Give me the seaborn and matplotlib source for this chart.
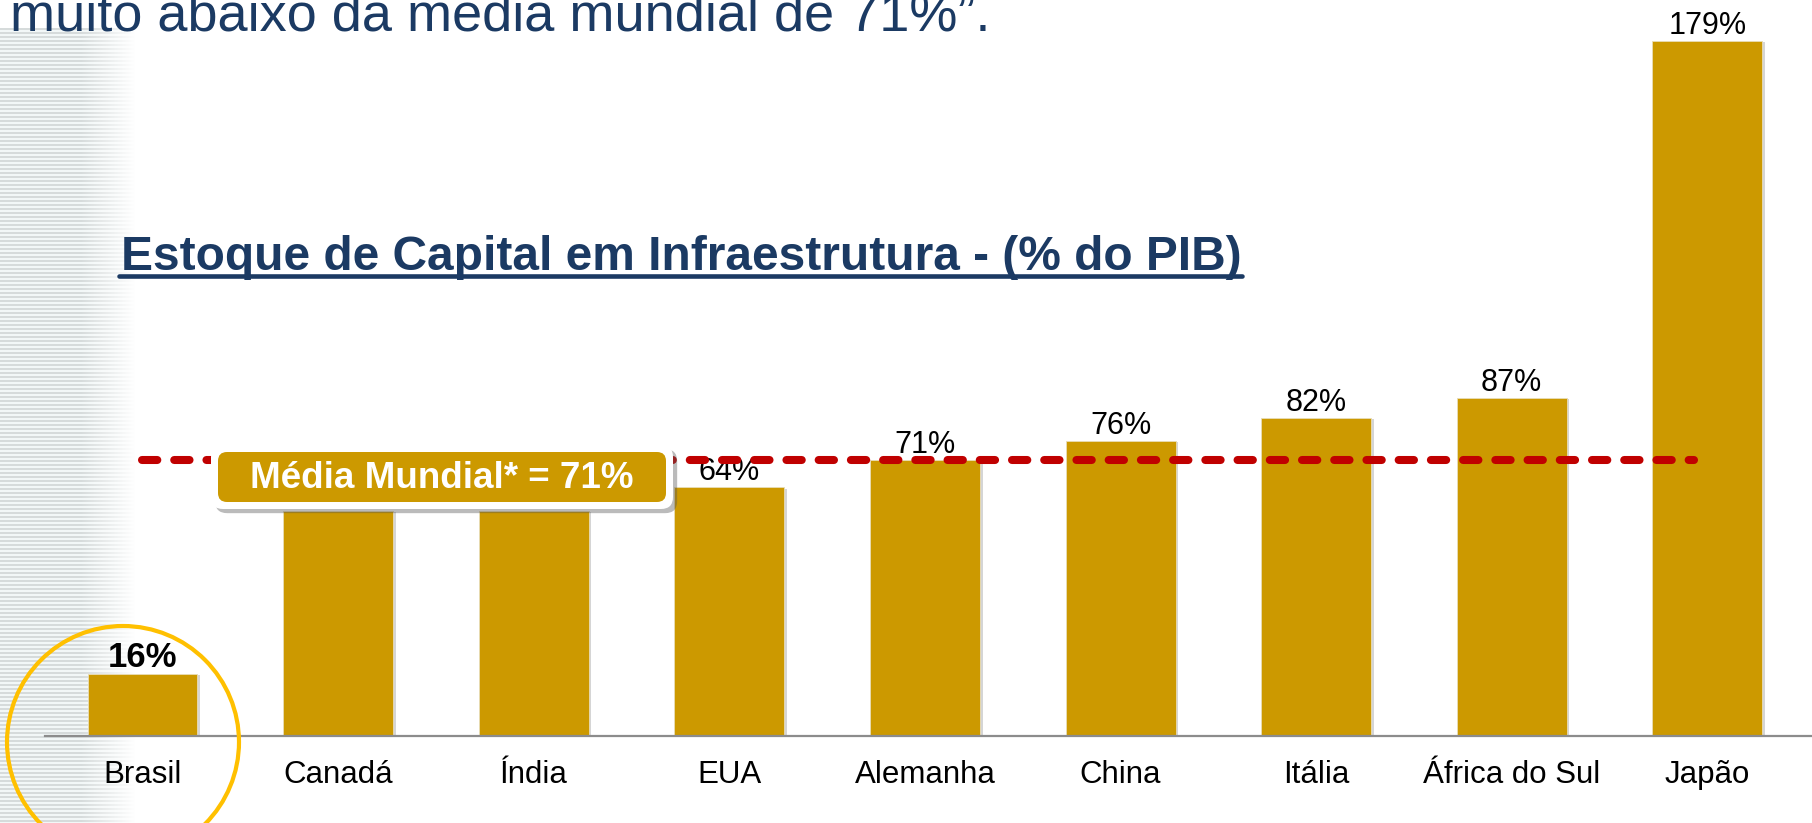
import matplotlib
matplotlib.use('Agg')
import matplotlib.pyplot as plt
from matplotlib.patches import FancyBboxPatch, Circle
from matplotlib.lines import Line2D
import matplotlib.patheffects as pe
import numpy as np
import pandas as pd
import seaborn as sns

paises = ['Brasil', 'Canadá', 'Índia', 'EUA', 'Alemanha', 'China', 'Itália', 'África do Sul', 'Japão']
estoque = [16, 58, 58, 64, 71, 76, 82, 87, 179]
media_mundial = 71
# Canadá e Índia ficam escondidos atrás da caixa da média no original
ocultos = ['Canadá', 'Índia']

titulo = 'Estoque de Capital em Infraestrutura - (% do PIB)'
texto_topo = 'muito abaixo da média mundial de 71%”.'
rotulo_media = f'Média Mundial* = {media_mundial}%'

OURO = '#CC9900'
AZUL = '#1B3A63'
VERMELHO = '#C00000'

sns.set_style('white')
plt.rcParams['font.family'] = ['Liberation Sans', 'DejaVu Sans']

W, H = 1812, 823
fig = plt.figure(figsize=(W / 100, H / 100), dpi=100)

# faixa listrada decorativa na margem esquerda
bg = fig.add_axes([0, 0, 135 / W, (H - 28) / H], zorder=-5)
rows = np.arange(H - 28)
gray = np.where(rows % 4 < 2, 0.84, 0.95)
img = np.ones((H - 28, 135, 4))
img[:, :, 0] = gray[:, None]
img[:, :, 1] = gray[:, None] + 0.02
img[:, :, 2] = gray[:, None] + 0.02
cols = np.arange(135)
img[:, :, 3] = np.clip(1 - (cols - 80) / 55, 0, 1)[None, :]
bg.imshow(np.clip(img, 0, 1), aspect='auto', interpolation='nearest')
bg.axis('off')

ax = fig.add_axes([45 / W, (H - 736) / H, (W - 45) / W, 736 / H])
ax.patch.set_alpha(0)
df = pd.DataFrame({'pais': paises, 'valor': estoque})
sns.barplot(data=df, x='pais', y='valor', color=OURO, saturation=1, width=0.562, ax=ax)
for bar in ax.patches:
    bar.set_path_effects([pe.SimplePatchShadow(offset=(2, -1), shadow_rgbFace='#888888', alpha=0.35), pe.Normal()])
    bar.set_edgecolor('#E8DDB8')
    bar.set_linewidth(0.6)

ax.set_xlim(-0.4985, 8.535)
ax.set_ylim(0, 189.5)
rotulos = ['' if p in ocultos else f'{v}%' for p, v in zip(paises, estoque)]
labels = ax.bar_label(ax.containers[0], labels=rotulos, fontsize=22, padding=0, color='black')
labels[0].set_fontweight('bold')
labels[0].set_fontsize(25)

ax.axhline(media_mundial, xmin=0.0549, xmax=0.9332, color=VERMELHO, lw=5.8,
           linestyle=(0, (1.9, 2.1)), dash_capstyle='round', zorder=3)

for s in ['top', 'left', 'right']:
    ax.spines[s].set_visible(False)
ax.spines['bottom'].set_color('#8C8C8C')
ax.spines['bottom'].set_linewidth(1.6)
ax.set_yticks([])
ax.set_xlabel('')
ax.set_ylabel('')
ax.tick_params(axis='x', length=0, pad=17, labelsize=22.5, labelcolor='black')

# caixa da média mundial
outer = FancyBboxPatch((2.11, (H - 509) / 100), 4.62, 0.64,
                       boxstyle='round,pad=0,rounding_size=0.12',
                       transform=fig.dpi_scale_trans, fc='white', ec='none', zorder=5)
outer.set_path_effects([pe.SimplePatchShadow(offset=(3, -3), shadow_rgbFace='#555555', alpha=0.4), pe.Normal()])
fig.add_artist(outer)
inner = FancyBboxPatch((2.18, (H - 502) / 100), 4.48, 0.50,
                       boxstyle='round,pad=0,rounding_size=0.09',
                       transform=fig.dpi_scale_trans, fc=OURO, ec='none', zorder=6)
fig.add_artist(inner)
fig.text(442 / W, (H - 478) / H, rotulo_media, fontsize=26.5, fontweight='bold',
         color='white', ha='center', va='center', zorder=7)

# círculo de destaque do Brasil
circ = Circle((1.23, (H - 742) / 100), 1.16, transform=fig.dpi_scale_trans,
              fill=False, ec='#FFC000', lw=3, zorder=8)
fig.add_artist(circ)

# textos
fig.text(10 / W, (H - 31) / H, texto_topo, fontsize=39, color=AZUL, ha='left', va='baseline')
t = fig.text(121 / W, (H - 270) / H, titulo, fontsize=34.5, fontweight='bold',
             color=AZUL, ha='left', va='baseline')
fig.canvas.draw()
bb = t.get_window_extent(fig.canvas.get_renderer())
fig.add_artist(Line2D([bb.x0 / W - 0.001, bb.x1 / W], [(H - 276) / H] * 2,
                      transform=fig.transFigure, color=AZUL, lw=3.3))

fig.savefig('out.png', dpi=100)
